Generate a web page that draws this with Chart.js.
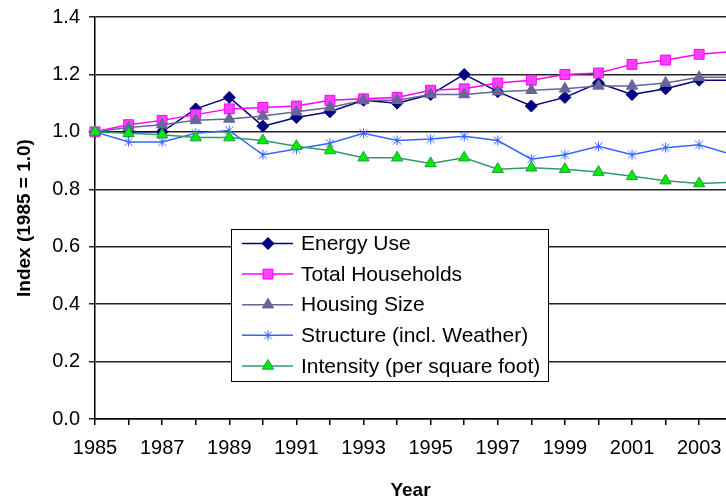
<!DOCTYPE html>
<html>
<head>
<meta charset="utf-8">
<script src="https://cdn.jsdelivr.net/npm/chart.js@4.4.1/dist/chart.umd.min.js"></script>
<style>
  html, body { margin: 0; padding: 0; background: #fff; overflow: hidden; }
  canvas { display: block; }
</style>
</head>
<body>
<canvas id="indexChart" width="726" height="504"></canvas>
<script>
// ========================================
// ÍNDICES DE ENERGÍA RESIDENCIAL (1985 = 1.0)
// ========================================

const years = [1985, 1986, 1987, 1988, 1989, 1990, 1991, 1992, 1993, 1994,
               1995, 1996, 1997, 1998, 1999, 2000, 2001, 2002, 2003, 2004];

const energyUse       = [1.00, 1.00, 1.00, 1.08, 1.12, 1.02, 1.05, 1.07, 1.11, 1.10,
                         1.13, 1.20, 1.14, 1.09, 1.12, 1.17, 1.13, 1.15, 1.18, 1.18];
const totalHouseholds = [1.00, 1.025, 1.04, 1.06, 1.08, 1.085, 1.09, 1.11, 1.115, 1.12,
                         1.145, 1.15, 1.17, 1.18, 1.20, 1.205, 1.235, 1.25, 1.27, 1.28];
const housingSize     = [1.00, 1.015, 1.025, 1.04, 1.045, 1.055, 1.07, 1.085, 1.11, 1.11,
                         1.13, 1.13, 1.14, 1.145, 1.15, 1.16, 1.16, 1.17, 1.19, 1.19];
const structure       = [1.00, 0.965, 0.965, 0.995, 1.005, 0.92, 0.94, 0.96, 0.995, 0.97,
                         0.975, 0.985, 0.97, 0.905, 0.92, 0.95, 0.92, 0.945, 0.955, 0.92];
const intensity       = [1.00, 0.995, 0.99, 0.98, 0.98, 0.97, 0.95, 0.935, 0.91, 0.91,
                         0.89, 0.91, 0.87, 0.875, 0.87, 0.86, 0.845, 0.83, 0.82, 0.825];

const seriesNames = ['Energy Use', 'Total Households', 'Housing Size',
                     'Structure (incl. Weather)', 'Intensity (per square foot)'];

// solo se rotulan los años impares
const xTickLabels = [1985, 1987, 1989, 1991, 1993, 1995, 1997, 1999, 2001, 2003];

const FONT = '"Liberation Sans", Arial, sans-serif';
Chart.defaults.font.family = FONT;
Chart.defaults.color = '#000';

// marcador "estrella" de Excel: una x con raya vertical
function makeStar(color) {
  const c = document.createElement('canvas');
  c.width = 11;
  c.height = 11;
  const g = c.getContext('2d');
  g.strokeStyle = color;
  g.lineWidth = 1;
  g.beginPath();
  g.moveTo(1.5, 1.5); g.lineTo(9.5, 9.5);
  g.moveTo(9.5, 1.5); g.lineTo(1.5, 9.5);
  g.moveTo(5.5, 0.5); g.lineTo(5.5, 10.5);
  g.stroke();
  return c;
}

const toPoints = (values) => years.map((yr, i) => ({ x: yr, y: values[i] }));

function makeSeries(i, values, line, fill, stroke, style, radius) {
  return {
    label: seriesNames[i],
    data: toPoints(values),
    borderColor: line,
    borderWidth: 1.5,
    pointBackgroundColor: fill,
    pointBorderColor: stroke,
    pointBorderWidth: 1,
    pointStyle: style,
    pointRadius: radius,
    tension: 0,
    clip: false,
    order: -i   // las series posteriores quedan encima, como en Excel
  };
}

// Leyenda dentro del área del gráfico
const legendBox = {
  id: 'legendBox',
  afterDatasetsDraw(chart) {
    const ctx = chart.ctx;
    const left = 231.5, top = 229.5, width = 317, height = 152;
    ctx.save();
    ctx.fillStyle = '#fff';
    ctx.fillRect(left, top, width, height);
    ctx.strokeStyle = '#000';
    ctx.lineWidth = 1;
    ctx.strokeRect(left, top, width, height);
    ctx.font = '21px ' + FONT;
    ctx.textBaseline = 'middle';
    ctx.textAlign = 'left';
    chart.data.datasets.forEach((ds, i) => {
      const y = 243.5 + i * 30.6;
      ctx.strokeStyle = ds.borderColor;
      ctx.lineWidth = ds.borderWidth;
      ctx.beginPath();
      ctx.moveTo(242, y);
      ctx.lineTo(293, y);
      ctx.stroke();
      ctx.fillStyle = ds.pointBackgroundColor;
      ctx.strokeStyle = ds.pointBorderColor;
      ctx.lineWidth = 1;
      Chart.helpers.drawPoint(ctx, { pointStyle: ds.pointStyle, radius: ds.pointRadius, borderWidth: 1, rotation: 0 }, 268, y);
      ctx.fillStyle = '#000';
      ctx.fillText(ds.label, 301, y + 1);
    });
    ctx.restore();
  }
};

const ctx = document.getElementById('indexChart').getContext('2d');
const indexChart = new Chart(ctx, {
  type: 'line',
  data: {
    datasets: [
      makeSeries(0, energyUse, '#000080', '#000080', '#000080', 'rectRot', 6),
      makeSeries(1, totalHouseholds, '#ff00ff', '#ff40ff', '#ff00ff', 'rect', 7),
      makeSeries(2, housingSize, '#666699', '#666699', '#666699', 'triangle', 6.5),
      makeSeries(3, structure, '#3366ff', '#3366ff', '#3366ff', makeStar('#3366ff'), 5),
      makeSeries(4, intensity, '#339966', '#00ee00', '#229944', 'triangle', 6.5)
    ]
  },
  options: {
    responsive: false,
    animation: false,
    layout: { autoPadding: false, padding: { top: 17, right: 0, bottom: 0, left: 0 } },
    plugins: {
      legend: { display: false },
      tooltip: { enabled: false }
    },
    scales: {
      x: {
        type: 'linear',
        min: 1985,
        max: 2003.8,
        ticks: {
          stepSize: 1,
          includeBounds: false,
          autoSkip: false,
          maxRotation: 0,
          padding: 11,
          color: '#000',
          font: { size: 20 },
          callback: (value) => xTickLabels.includes(value) ? String(value) : ''
        },
        grid: { drawOnChartArea: false, drawTicks: true, tickLength: 6, color: '#000', lineWidth: 1.5 },
        border: { color: '#000', width: 1.5 },
        title: { display: true, text: 'Year', color: '#000', font: { size: 19, weight: 'bold' }, padding: 2 },
        afterFit: (scale) => {
          scale.height = 85;
          // el eje sigue hasta el borde derecho (gráfico recortado)
          scale.paddingLeft = 0;
          scale.paddingRight = 0;
        }
      },
      y: {
        min: 0,
        max: 1.4,
        ticks: {
          stepSize: 0.2,
          padding: 9,
          color: '#000',
          font: { size: 20 },
          callback: (value) => value.toFixed(1)
        },
        grid: { color: '#222', lineWidth: 1.5, drawTicks: true, tickLength: 6 },
        border: { color: '#000', width: 1.5 },
        title: { display: true, text: 'Index (1985 = 1.0)', color: '#000', font: { size: 19, weight: 'bold' }, padding: 13 },
        afterFit: (scale) => {
          scale.width = 95;
          scale.paddingTop = 0;
          scale.paddingBottom = 0;
        }
      }
    }
  },
  plugins: [legendBox]
});
</script>
</body>
</html>
